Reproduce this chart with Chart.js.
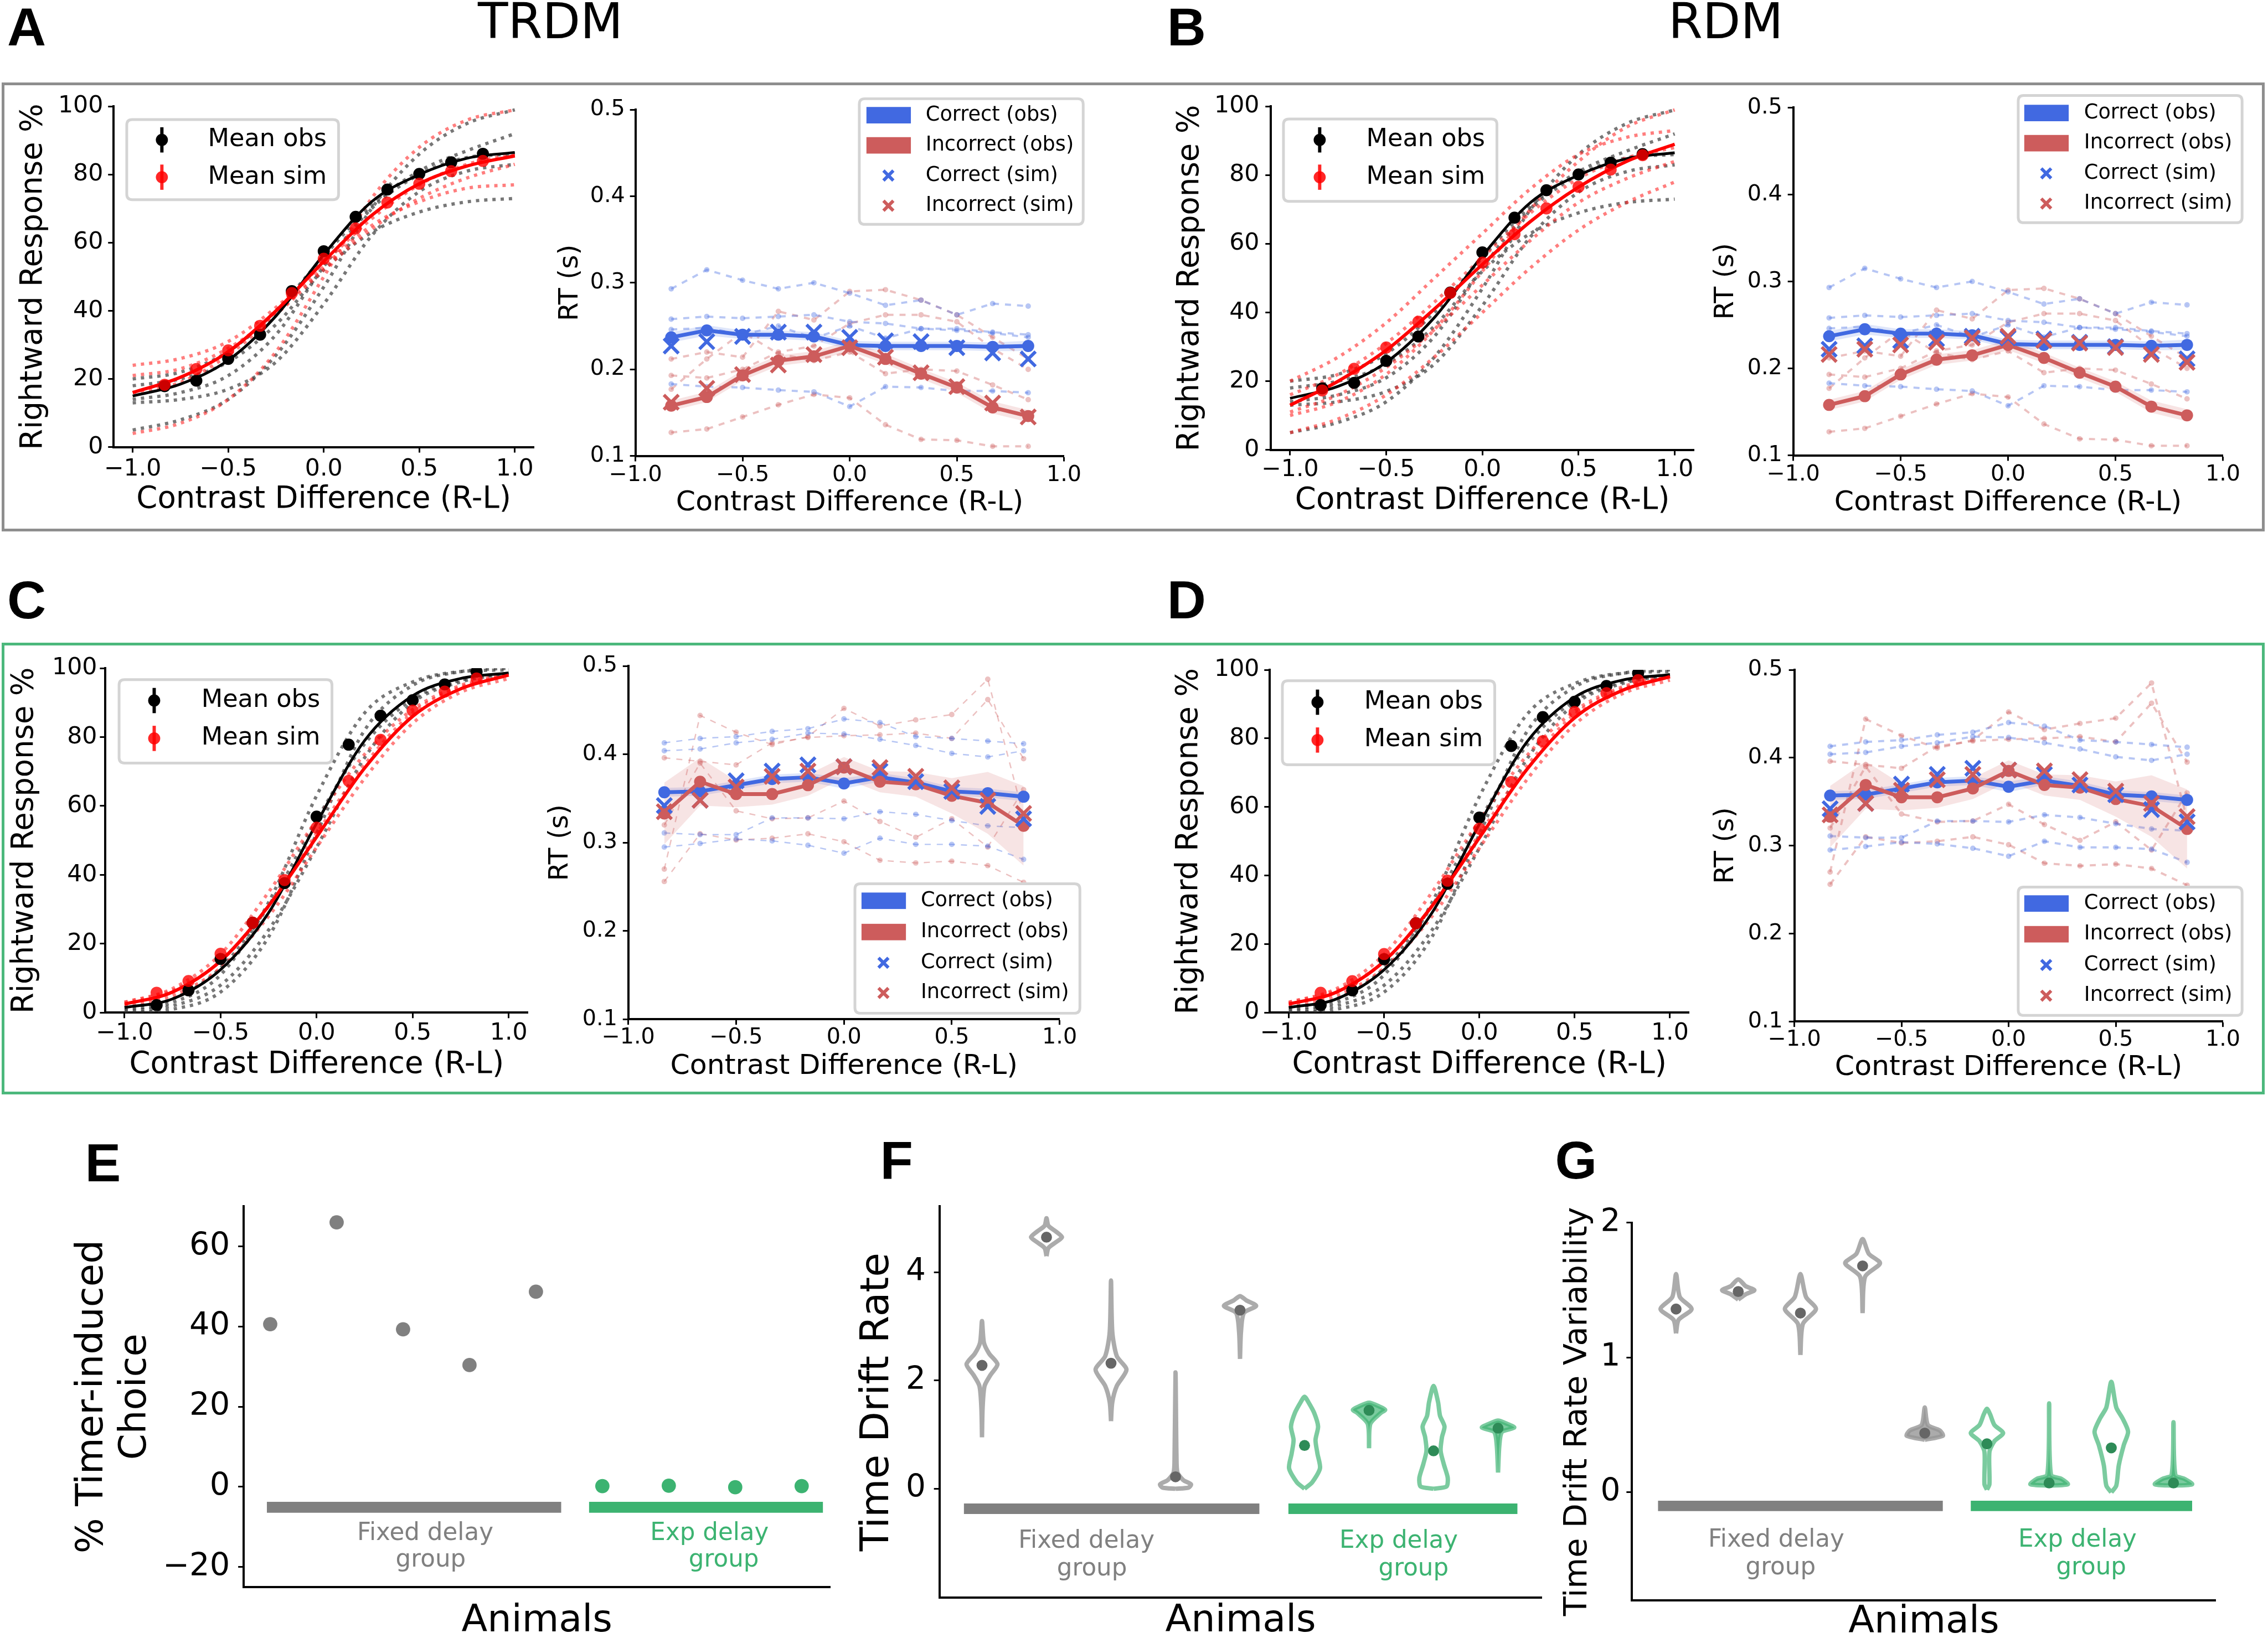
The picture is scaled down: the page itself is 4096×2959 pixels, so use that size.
<!DOCTYPE html>
<html>
<head>
<meta charset="utf-8">
<script src="https://cdn.jsdelivr.net/npm/chart.js@4.4.1/dist/chart.umd.min.js"></script>
<style>
  html, body { margin: 0; padding: 0; background: #fff; }
  #page { position: relative; width: 4096px; height: 2959px; overflow: hidden; background: #fff; }
  canvas { position: absolute; }
  .txt { position: absolute; white-space: pre; line-height: 1; }
  .frame { position: absolute; box-sizing: border-box; }
</style>
</head>
<body>
<div id="page"></div>
<script>
// everything is laid out in reference pixels (4130 wide) and scaled by S
const S = 0.991;
const FONT = '"DejaVu Sans", "Liberation Sans", sans-serif';

// ---- shared axes ----
const contrast = [-0.833, -0.667, -0.5, -0.333, -0.167, 0, 0.167, 0.333, 0.5, 0.667, 0.833];
const fitX = [-1, -0.75, -0.5, -0.25, 0, 0.25, 0.5, 0.75, 1];
const psyXTicks = [-1, -0.5, 0, 0.5, 1];
const psyYTicks = [0, 20, 40, 60, 80, 100];
const rtYTicks = [0.1, 0.2, 0.3, 0.4, 0.5];

// ---- fixed delay group, rightward response % (A, B) ----
const fixedObsMean = [17.9, 19.5, 25.9, 33.0, 45.8, 57.5, 67.6, 75.6, 80.2, 83.6, 86.1];
const fixedObsFit = [15, 18.5, 25.5, 38.5, 56.5, 72, 80, 84.8, 86.5];
const trdmSimMean = [18.3, 22.9, 28.4, 35.6, 45.2, 55.3, 64.2, 71.8, 77.3, 81.0, 84.0];
const trdmSimFit = [16, 20.5, 28, 40, 54.5, 68, 77.3, 82.5, 85.5];
const rdmSimMean = [17.3, 23.6, 29.8, 37.3, 45.7, 54.5, 62.8, 70.3, 76.6, 81.6, 85.8];
const rdmSimFit = [13, 20, 29, 41, 54, 66.5, 76.5, 84, 89];
const fixedObsIndiv = [
  [5, 8, 14, 27, 47, 70, 86, 95, 99],
  [20, 22, 28, 40, 56, 71, 81, 87, 92],
  [14, 16, 21, 33, 53, 70, 80, 85, 86],
  [13, 14, 17, 25, 42, 62, 75, 81, 83],
  [18, 20, 25, 36, 52, 63, 69, 72, 73]
];
const trdmSimIndiv = [
  [4, 7, 14, 28, 50, 73, 88, 96, 99],
  [24, 26, 31, 41, 54, 67, 77, 83, 86],
  [21, 23, 29, 39, 52, 64, 73, 79, 83],
  [16, 19, 27, 39, 53, 65, 72, 76, 77]
];
const rdmSimIndiv = [
  [5, 9, 16, 27, 40, 53, 64, 72, 78],
  [11, 16, 24, 35, 48, 61, 72, 79, 84],
  [16, 22, 31, 43, 56, 69, 79, 85, 88],
  [20, 27, 37, 50, 63, 76, 86, 91, 93],
  [10, 14, 22, 35, 52, 70, 84, 94, 99]
];

// ---- exp delay group, rightward response % (C, D) ----
const expObsMean = [2.2, 6.5, 15.6, 26.1, 37.6, 56.9, 77.8, 86.2, 90.7, 95.3, 99.0];
const expObsFit = [1.5, 4, 12.5, 29, 55, 79, 92, 97, 98.6];
const expSimMean = [5.8, 9.2, 17.1, 26.1, 38.5, 53.7, 67.3, 79.2, 87.7, 93.2, 97.0];
const expSimFit = [2.5, 6, 15, 31, 51, 71, 86, 94, 98];
const expObsIndiv = [
  [0, 1, 6, 22, 52, 82, 95, 99, 100],
  [1, 3, 11, 32, 63, 87, 96, 99, 99.5],
  [1.5, 4, 13, 31, 56, 78, 91, 96.5, 98.5],
  [0.5, 2, 8, 24, 48, 74, 90, 96, 98.5]
];
const expSimIndiv = [
  [3, 6.5, 15, 31, 52, 72, 87, 94.5, 98],
  [2, 5, 13, 28, 48, 68, 84, 93, 97],
  [3, 7, 17, 35, 56, 75, 88, 95, 98.5]
];

// ---- reaction times, fixed delay group (A, B) ----
const rtCorrFixed = [0.237, 0.245, 0.240, 0.240, 0.238, 0.228, 0.227, 0.227, 0.227, 0.226, 0.227];
const rtIncFixed = [0.158, 0.168, 0.193, 0.210, 0.215, 0.227, 0.212, 0.195, 0.179, 0.156, 0.146];
const rtCorrFixedErr = [0.006, 0.006, 0.005, 0.005, 0.005, 0.005, 0.005, 0.005, 0.005, 0.005, 0.006];
const rtIncFixedErr = [0.006, 0.006, 0.006, 0.006, 0.006, 0.006, 0.006, 0.006, 0.006, 0.007, 0.007];
const trdmSimCorr = [0.227, 0.232, 0.238, 0.243, 0.243, 0.237, 0.233, 0.232, 0.225, 0.219, 0.212];
const trdmSimInc = [0.162, 0.178, 0.194, 0.205, 0.217, 0.225, 0.214, 0.196, 0.180, 0.161, 0.145];
const rdmSimCorr = [0.222, 0.226, 0.232, 0.234, 0.237, 0.235, 0.234, 0.230, 0.225, 0.219, 0.211];
const rdmSimInc = [0.216, 0.222, 0.227, 0.230, 0.235, 0.237, 0.232, 0.229, 0.224, 0.216, 0.207];
const rtCorrFixedIndiv = [
  [0.293, 0.315, 0.303, 0.293, 0.300, 0.288, 0.274, 0.280, 0.263, 0.276, 0.273],
  [0.258, 0.261, 0.259, 0.261, 0.263, 0.255, 0.253, 0.247, 0.247, 0.243, 0.240],
  [0.246, 0.248, 0.240, 0.250, 0.236, 0.250, 0.236, 0.247, 0.245, 0.242, 0.237],
  [0.183, 0.180, 0.179, 0.176, 0.174, 0.157, 0.180, 0.179, 0.175, 0.175, 0.173]
];
const rtIncFixedIndiv = [
  [0.127, 0.131, 0.145, 0.159, 0.171, 0.167, 0.136, 0.119, 0.118, 0.111, 0.111],
  [0.212, 0.220, 0.214, 0.267, 0.257, 0.290, 0.292, 0.280, 0.263, 0.237, 0.212],
  [0.193, 0.190, 0.200, 0.220, 0.227, 0.253, 0.263, 0.263, 0.255, 0.224, 0.200],
  [0.177, 0.212, 0.243, 0.218, 0.210, 0.220, 0.195, 0.200, 0.198, 0.182, 0.165]
];

// ---- reaction times, exp delay group (C, D) ----
const rtCorrExp = [0.357, 0.358, 0.365, 0.372, 0.374, 0.367, 0.374, 0.368, 0.358, 0.356, 0.352];
const rtIncExp = [0.333, 0.369, 0.355, 0.355, 0.365, 0.385, 0.369, 0.366, 0.353, 0.345, 0.319];
const rtCorrExpErr = [0.005, 0.005, 0.005, 0.005, 0.005, 0.006, 0.005, 0.005, 0.005, 0.005, 0.005];
const rtIncExpErr = [0.035, 0.027, 0.015, 0.012, 0.012, 0.012, 0.012, 0.014, 0.020, 0.035, 0.045];
const expSimCorr = [0.342, 0.348, 0.370, 0.381, 0.388, 0.386, 0.381, 0.369, 0.358, 0.341, 0.327];
const expSimInc = [0.335, 0.348, 0.363, 0.375, 0.381, 0.386, 0.385, 0.375, 0.362, 0.348, 0.333];
const rtCorrExpIndiv = [
  [0.413, 0.418, 0.420, 0.426, 0.429, 0.440, 0.436, 0.420, 0.418, 0.415, 0.412],
  [0.404, 0.406, 0.413, 0.417, 0.424, 0.423, 0.417, 0.410, 0.401, 0.397, 0.404],
  [0.311, 0.309, 0.309, 0.328, 0.328, 0.327, 0.335, 0.332, 0.325, 0.319, 0.317],
  [0.295, 0.299, 0.304, 0.302, 0.297, 0.288, 0.305, 0.298, 0.298, 0.296, 0.281]
];
const rtIncExpIndiv = [
  [0.396, 0.392, 0.388, 0.413, 0.419, 0.421, 0.422, 0.424, 0.418, 0.462, 0.395],
  [0.270, 0.444, 0.425, 0.411, 0.420, 0.452, 0.432, 0.439, 0.445, 0.485, 0.330],
  [0.256, 0.310, 0.303, 0.305, 0.310, 0.301, 0.280, 0.277, 0.279, 0.274, 0.255],
  [0.320, 0.390, 0.336, 0.327, 0.328, 0.347, 0.324, 0.306, 0.327, 0.295, 0.360]
];

// ---- per-animal panels (E, F, G): animals 0-4 fixed, 5-8 exp ----
const animalPos = [0, 1, 2, 3, 4, 5, 6, 7, 8];
const timerChoice = [40.6, 66.0, 39.3, 30.4, 48.7, 0.2, 0.3, -0.1, 0.2];
// violin outlines: [value, half width] from bottom to top
const driftViolins = [
  [[0.95, 0], [1.5, 0.01], [1.9, 0.04], [2.1, 0.13], [2.3, 0.24], [2.5, 0.11], [2.7, 0.03], [3.1, 0]],
  [[4.3, 0], [4.45, 0.03], [4.56, 0.15], [4.65, 0.24], [4.75, 0.15], [4.86, 0.03], [5.0, 0]],
  [[1.25, 0], [1.6, 0.02], [1.9, 0.09], [2.2, 0.24], [2.45, 0.09], [2.9, 0.02], [3.85, 0]],
  [[0.0, 0], [0.02, 0.2], [0.08, 0.24], [0.16, 0.12], [0.3, 0.03], [0.6, 0.015], [2.15, 0]],
  [[2.4, 0], [2.9, 0.015], [3.25, 0.06], [3.38, 0.25], [3.48, 0.1], [3.56, 0]],
  [[0.0, 0], [0.12, 0.12], [0.38, 0.24], [0.65, 0.2], [0.9, 0.17], [1.15, 0.21], [1.4, 0.15], [1.6, 0.06], [1.7, 0]],
  [[0.75, 0], [1.2, 0.02], [1.4, 0.18], [1.46, 0.25], [1.52, 0.16], [1.59, 0]],
  [[0.0, 0], [0.04, 0.2], [0.2, 0.22], [0.45, 0.16], [0.7, 0.11], [0.95, 0.13], [1.15, 0.17], [1.35, 0.1], [1.6, 0.07], [1.9, 0]],
  [[0.3, 0], [0.8, 0.02], [1.05, 0.06], [1.13, 0.25], [1.2, 0.14], [1.26, 0]]
];
const driftMedian = [2.28, 4.65, 2.32, 0.22, 3.3, 0.8, 1.45, 0.7, 1.12];
const driftSolid = [false, false, false, false, false, false, true, false, true];
const varViolins = [
  [[1.18, 0], [1.28, 0.04], [1.36, 0.25], [1.45, 0.06], [1.62, 0]],
  [[1.43, 0], [1.47, 0.12], [1.5, 0.26], [1.53, 0.12], [1.58, 0]],
  [[1.02, 0], [1.25, 0.04], [1.36, 0.25], [1.45, 0.09], [1.62, 0]],
  [[1.33, 0], [1.6, 0.04], [1.7, 0.28], [1.77, 0.1], [1.88, 0]],
  [[0.39, 0], [0.42, 0.29], [0.46, 0.24], [0.5, 0.05], [0.63, 0]],
  [[0.02, 0], [0.06, 0.04], [0.3, 0.04], [0.38, 0.12], [0.44, 0.26], [0.5, 0.12], [0.58, 0.05], [0.62, 0]],
  [[0.05, 0], [0.06, 0.3], [0.1, 0.2], [0.13, 0.03], [0.66, 0]],
  [[0.0, 0], [0.05, 0.08], [0.2, 0.12], [0.35, 0.2], [0.45, 0.27], [0.55, 0.18], [0.63, 0.08], [0.82, 0]],
  [[0.05, 0], [0.06, 0.3], [0.1, 0.18], [0.13, 0.03], [0.52, 0]]
];
const varMedian = [1.36, 1.49, 1.33, 1.68, 0.44, 0.36, 0.07, 0.33, 0.07];
const varSolid = [false, false, false, false, true, false, true, false, true];
const eYTicks = [-20, 0, 20, 40, 60];
const fYTicks = [0, 2, 4];
const gYTicks = [0, 1, 2];

// ---------------------------------------------------------------
const page = document.getElementById('page');
Chart.defaults.font.family = FONT;

function fmt(v, d) { return v.toFixed(d).replace('-', '\u2212'); }
const xy = (xs, ys) => xs.map((x, i) => ({ x: x, y: ys[i] }));

function pts(xs, ys, color, r, style, bw) {
  return { data: xy(xs, ys), showLine: false, pointRadius: r * S, pointStyle: style || 'circle',
    pointBackgroundColor: color, pointBorderColor: color, pointBorderWidth: (bw || 0) * S, borderColor: color };
}
function curve(xs, ys, color, w, dash) {
  return { data: xy(xs, ys), borderColor: color, borderWidth: w * S, borderDash: dash ? dash.map(d => d * S) : [],
    pointRadius: 0, cubicInterpolationMode: 'monotone', fill: false, borderCapStyle: 'butt' };
}
function obsLine(ys, color) {
  return { data: xy(contrast, ys), borderColor: color, borderWidth: 7 * S, pointRadius: 11 * S,
    pointBackgroundColor: color, pointBorderWidth: 0, fill: false, tension: 0 };
}
function dashLine(ys, color, w) {
  return { data: xy(contrast, ys), borderColor: color, borderWidth: w * S, borderDash: [11 * S, 11 * S],
    pointRadius: 5 * S, pointBackgroundColor: color, pointBorderWidth: 0, fill: false, tension: 0 };
}
function band(mean, err, color) {
  return [
    { data: xy(contrast, mean.map((v, i) => v - err[i])), borderWidth: 0, borderColor: 'rgba(0,0,0,0)', pointRadius: 0, fill: false },
    { data: xy(contrast, mean.map((v, i) => v + err[i])), borderWidth: 0, borderColor: 'rgba(0,0,0,0)', pointRadius: 0, fill: '-1', backgroundColor: color }
  ];
}
function hbar(x0, x1, y, color, w) {
  return { data: [{ x: x0, y: y }, { x: x1, y: y }], borderColor: color, borderWidth: w * S, pointRadius: 0, fill: false, borderCapStyle: 'butt' };
}
function violin(pos, profile, color, solid) {
  const right = profile.map(([y, w]) => ({ x: pos + w, y: y }));
  const left = profile.slice(0, -1).reverse().map(([y, w]) => ({ x: pos - w, y: y }));
  return { data: right.concat(left), borderColor: color, borderWidth: 8 * S, pointRadius: 0, tension: 0.25,
    fill: solid ? 'shape' : false, backgroundColor: color, borderJoinStyle: 'round' };
}

function psyDatasets(obsMean, obsFit, simMean, simFit, obsIndiv, simIndiv) {
  const ds = [
    pts(contrast, simMean, 'rgba(255,0,0,0.8)', 11),
    pts(contrast, obsMean, '#000000', 11),
    curve(fitX, simFit, '#ff0000', 6),
    curve(fitX, obsFit, '#000000', 5)
  ];
  simIndiv.forEach(v => ds.push(curve(fitX, v, 'rgba(255,40,40,0.6)', 6, [6, 9])));
  obsIndiv.forEach(v => ds.push(curve(fitX, v, 'rgba(55,55,55,0.68)', 6, [6, 9])));
  return ds;
}
function rtDatasets(corr, corrErr, inc, incErr, simCorr, simInc, corrIndiv, incIndiv, dashW) {
  const ds = [
    pts(contrast, simInc, '#cd5c5c', 19, 'crossRot', 6),
    pts(contrast, simCorr, '#4169e1', 19, 'crossRot', 6),
    obsLine(inc, '#cd5c5c'),
    obsLine(corr, '#4169e1')
  ];
  band(inc, incErr, 'rgba(205,92,92,0.17)').forEach(d => ds.push(d));
  band(corr, corrErr, 'rgba(65,105,225,0.17)').forEach(d => ds.push(d));
  corrIndiv.forEach(v => ds.push(dashLine(v, 'rgba(65,105,225,0.38)', dashW)));
  incIndiv.forEach(v => ds.push(dashLine(v, 'rgba(205,92,92,0.38)', dashW)));
  return ds;
}
function violinDatasets(profiles, medians, solid, dotGray, dotGreen, barY, fixedBar, expBar) {
  const ds = [
    pts(animalPos.slice(0, 5), medians.slice(0, 5), dotGray, 10),
    pts(animalPos.slice(5), medians.slice(5), dotGreen, 10)
  ];
  profiles.forEach((p, i) => ds.push(violin(animalPos[i], p, i < 5 ? 'rgba(150,150,150,0.8)' : 'rgba(60,179,113,0.68)', solid[i])));
  ds.push(hbar(fixedBar[0], fixedBar[1], barY, '#808080', 19));
  ds.push(hbar(expBar[0], expBar[1], barY, '#3cb371', 19));
  return ds;
}

function legendPlugin(spec, X, Y) {
  return { id: 'panelLegend', afterDraw(chart) {
    const ctx = chart.ctx;
    const [l, t, r, b] = spec.box;
    const x0 = X(l), y0 = Y(t), w = (r - l) * S, h = (b - t) * S, rad = 10 * S;
    ctx.save();
    ctx.beginPath();
    ctx.moveTo(x0 + rad, y0); ctx.lineTo(x0 + w - rad, y0); ctx.quadraticCurveTo(x0 + w, y0, x0 + w, y0 + rad);
    ctx.lineTo(x0 + w, y0 + h - rad); ctx.quadraticCurveTo(x0 + w, y0 + h, x0 + w - rad, y0 + h);
    ctx.lineTo(x0 + rad, y0 + h); ctx.quadraticCurveTo(x0, y0 + h, x0, y0 + h - rad);
    ctx.lineTo(x0, y0 + rad); ctx.quadraticCurveTo(x0, y0, x0 + rad, y0);
    ctx.closePath();
    ctx.fillStyle = 'rgba(255,255,255,0.85)'; ctx.fill();
    ctx.strokeStyle = '#d4d4d4'; ctx.lineWidth = 5 * S; ctx.stroke();
    ctx.font = (spec.font * S) + 'px ' + FONT;
    ctx.textBaseline = 'middle'; ctx.textAlign = 'left';
    spec.items.forEach((it, i) => {
      const cy = Y(spec.rows[i]);
      if (it.kind === 'patch') {
        ctx.fillStyle = it.color;
        ctx.fillRect(X(spec.patch[0]), cy - 15 * S, (spec.patch[1] - spec.patch[0]) * S, 30 * S);
      } else if (it.kind === 'err') {
        const cx = X(spec.markX);
        ctx.strokeStyle = it.color; ctx.lineWidth = 6 * S;
        ctx.beginPath(); ctx.moveTo(cx, cy - 23 * S); ctx.lineTo(cx, cy + 23 * S); ctx.stroke();
        ctx.fillStyle = it.color; ctx.beginPath(); ctx.arc(cx, cy, 11 * S, 0, Math.PI * 2); ctx.fill();
      } else {
        const cx = X(spec.markX), a = 9 * S;
        ctx.strokeStyle = it.color; ctx.lineWidth = 6 * S;
        ctx.beginPath(); ctx.moveTo(cx - a, cy - a); ctx.lineTo(cx + a, cy + a);
        ctx.moveTo(cx + a, cy - a); ctx.lineTo(cx - a, cy + a); ctx.stroke();
      }
      ctx.fillStyle = '#000';
      ctx.fillText(it.label, X(spec.textX), cy);
    });
    ctx.restore();
  } };
}

function makePanel(p) {
  const [cl, ct, cr, cb] = p.cv, [pl, pt, pr, pb] = p.plot;
  const L = Math.round(cl * S), T = Math.round(ct * S);
  const W = Math.round(cr * S) - L, H = Math.round(cb * S) - T;
  const cv = document.createElement('canvas');
  cv.width = W; cv.height = H;
  cv.style.left = L + 'px'; cv.style.top = T + 'px'; cv.style.width = W + 'px'; cv.style.height = H + 'px';
  page.appendChild(cv);
  const X = v => v * S - L, Y = v => v * S - T;
  const xlh = p.xTitleSize * S * 0.5, ylh = p.yTitleSize * S * (p.yTitleLH || 0.5);
  return new Chart(cv, {
    type: 'line',
    data: { datasets: p.datasets },
    options: {
      responsive: false, maintainAspectRatio: false, animation: false, devicePixelRatio: 1, events: [],
      layout: { padding: { left: 0, bottom: 0, top: Y(pt), right: W - X(pr) } },
      plugins: { legend: { display: false }, tooltip: { enabled: false } },
      scales: {
        x: {
          type: 'linear', min: p.x[0], max: p.x[1],
          afterBuildTicks: s => { s.ticks = (p.xTicks || [p.x[0]]).map(v => ({ value: v })); },
          afterFit: s => { s.height = H - Y(pb); },
          ticks: { display: !!p.xTicks, autoSkip: false, maxRotation: 0, minRotation: 0, color: '#000',
            padding: (p.xTickPad || 0) * S, font: { size: p.tickSize * S, lineHeight: 1 },
            callback: v => fmt(v, p.xDec || 0) },
          grid: { drawOnChartArea: false, drawTicks: !!p.xTicks, tickLength: 10 * S, tickWidth: 3 * S, tickColor: '#000' },
          border: { display: true, color: '#000', width: 4 * S },
          title: { display: true, text: p.xTitle, color: '#000', font: { size: p.xTitleSize * S, lineHeight: 0.5 },
            padding: { top: 0, bottom: (H - Y(p.xTitleY)) - xlh / 2 } }
        },
        y: {
          type: 'linear', min: p.y[0], max: p.y[1],
          afterBuildTicks: s => { s.ticks = p.yTicks.map(v => ({ value: v })); },
          afterFit: s => { s.width = X(pl); },
          ticks: { autoSkip: false, color: '#000', padding: p.yTickPad * S,
            font: { size: p.tickSize * S, lineHeight: 1 }, callback: v => fmt(v, p.yDec || 0) },
          grid: { drawOnChartArea: false, drawTicks: true, tickLength: 10 * S, tickWidth: 3 * S, tickColor: '#000' },
          border: { display: true, color: '#000', width: 4 * S },
          title: { display: true, text: p.yTitle, color: '#000', font: { size: p.yTitleSize * S, lineHeight: p.yTitleLH || 0.5 },
            padding: { top: X(p.yTitleX) - ylh / 2, bottom: 0 } }
        }
      }
    },
    plugins: p.legend ? [legendPlugin(p.legend, X, Y)] : []
  });
}

function addText(txt, x, base, size, opts) {
  opts = opts || {};
  const d = document.createElement('div');
  d.className = 'txt';
  d.textContent = txt;
  d.style.fontSize = (size * S) + 'px';
  d.style.fontFamily = opts.family || FONT;
  d.style.fontWeight = opts.bold ? 'bold' : 'normal';
  d.style.color = opts.color || '#000';
  d.style.top = ((base - 0.846 * size) * S) + 'px';
  d.style.left = (x * S) + 'px';
  if (opts.center) d.style.transform = 'translateX(-50%)';
  page.appendChild(d);
}
function addFrame(l, t, r, b, color) {
  const d = document.createElement('div');
  d.className = 'frame';
  Object.assign(d.style, { left: l * S + 'px', top: t * S + 'px', width: (r - l) * S + 'px', height: (b - t) * S + 'px',
    border: (6 * S) + 'px solid ' + color });
  page.appendChild(d);
}

// frames and panel lettering
addFrame(3, 150, 4127, 969, '#8e8e8e');
addFrame(3, 1172, 4127, 1995, '#4cb87c');
const LET = { bold: true, family: '"Liberation Sans", Arial, sans-serif' };
addText('A', 13, 83, 98, LET);
addText('B', 2127, 83, 98, LET);
addText('C', 13, 1127, 98, LET);
addText('D', 2127, 1127, 98, LET);
addText('E', 155, 2154, 98, LET);
addText('F', 1604, 2148, 98, LET);
addText('G', 2834, 2148, 98, LET);
addText('TRDM', 1003, 70, 90, { center: true });
addText('RDM', 3145, 70, 90, { center: true });

const psyLegendItems = [
  { kind: 'err', color: '#000000', label: 'Mean obs' },
  { kind: 'err', color: 'rgba(255,0,0,0.85)', label: 'Mean sim' }
];
const rtLegendItems = [
  { kind: 'patch', color: '#4169e1', label: 'Correct (obs)' },
  { kind: 'patch', color: '#cd5c5c', label: 'Incorrect (obs)' },
  { kind: 'x', color: '#4169e1', label: 'Correct (sim)' },
  { kind: 'x', color: '#cd5c5c', label: 'Incorrect (sim)' }
];
const psyCommon = { x: [-1.1, 1.1], y: [0, 100], xTicks: psyXTicks, yTicks: psyYTicks, xDec: 1, yDec: 0,
  tickSize: 43, xTitle: 'Contrast Difference (R-L)', xTitleSize: 55, yTitle: 'Rightward Response %', yTitleSize: 55 };
const rtCommon = { x: [-1, 1], y: [0.1, 0.5], xTicks: psyXTicks, yTicks: rtYTicks, xDec: 1, yDec: 1,
  tickSize: 40, xTitle: 'Contrast Difference (R-L)', xTitleSize: 51, yTitle: 'RT (s)', yTitleSize: 49 };

// A: TRDM, fixed delay
makePanel(Object.assign({}, psyCommon, {
  cv: [15, 150, 1000, 960], plot: [207, 194, 973, 815], xTickPad: 9, yTickPad: 9, xTitleY: 911, yTitleX: 61,
  datasets: psyDatasets(fixedObsMean, fixedObsFit, trdmSimMean, trdmSimFit, fixedObsIndiv, trdmSimIndiv),
  legend: { box: [231, 218, 617, 364], rows: [255, 323], markX: 295, textX: 379, font: 45, items: psyLegendItems }
}));
makePanel(Object.assign({}, rtCommon, {
  cv: [995, 150, 2000, 960], plot: [1158, 200, 1939, 831], xTickPad: 6, yTickPad: 9, xTitleY: 917, yTitleX: 1040,
  datasets: rtDatasets(rtCorrFixed, rtCorrFixedErr, rtIncFixed, rtIncFixedErr, trdmSimCorr, trdmSimInc, rtCorrFixedIndiv, rtIncFixedIndiv, 4),
  legend: { box: [1566, 180, 1974, 409], rows: [210, 265, 320, 375], patch: [1579, 1660], markX: 1619, textX: 1687, font: 37, items: rtLegendItems }
}));
// B: RDM, fixed delay
makePanel(Object.assign({}, psyCommon, {
  cv: [2120, 150, 3110, 960], plot: [2316, 194, 3087, 820], xTickPad: 5, yTickPad: 11, xTitleY: 913, yTitleX: 2169,
  datasets: psyDatasets(fixedObsMean, fixedObsFit, rdmSimMean, rdmSimFit, fixedObsIndiv, rdmSimIndiv),
  legend: { box: [2339, 217, 2728, 367], rows: [255, 323], markX: 2405, textX: 2490, font: 45, items: psyLegendItems }
}));
makePanel(Object.assign({}, rtCommon, {
  cv: [3100, 150, 4110, 960], plot: [3268, 196, 4051, 830], xTickPad: 6, yTickPad: 10, xTitleY: 917, yTitleX: 3146,
  datasets: rtDatasets(rtCorrFixed, rtCorrFixedErr, rtIncFixed, rtIncFixedErr, rdmSimCorr, rdmSimInc, rtCorrFixedIndiv, rtIncFixedIndiv, 4),
  legend: { box: [3678, 174, 4086, 406], rows: [206, 261, 316, 371], patch: [3689, 3770], markX: 3729, textX: 3798, font: 37, items: rtLegendItems }
}));
// C: TRDM, exp delay
makePanel(Object.assign({}, psyCommon, {
  cv: [5, 1175, 990, 1985], plot: [192, 1218, 962, 1846], xTickPad: 6.5, yTickPad: 5, xTitleY: 1941, yTitleX: 45,
  datasets: psyDatasets(expObsMean, expObsFit, expSimMean, expSimFit, expObsIndiv, expSimIndiv),
  legend: { box: [217, 1239, 605, 1391], rows: [1277, 1346], markX: 281, textX: 367, font: 45, items: psyLegendItems }
}));
makePanel(Object.assign({}, rtCommon, {
  cv: [980, 1175, 1990, 1985], plot: [1145, 1214, 1931, 1858], xTickPad: 4, yTickPad: 10, xTitleY: 1944, yTitleX: 1022,
  datasets: rtDatasets(rtCorrExp, rtCorrExpErr, rtIncExp, rtIncExpErr, expSimCorr, expSimInc, rtCorrExpIndiv, rtIncExpIndiv, 2.5),
  legend: { box: [1558, 1611, 1968, 1847], rows: [1642, 1699, 1755, 1810], patch: [1570, 1651], markX: 1610, textX: 1678, font: 37, items: rtLegendItems }
}));
// D: RDM, exp delay
makePanel(Object.assign({}, psyCommon, {
  cv: [2120, 1175, 3110, 1985], plot: [2314, 1221, 3078, 1846], xTickPad: 6.5, yTickPad: 9, xTitleY: 1941, yTitleX: 2167,
  datasets: psyDatasets(expObsMean, expObsFit, expSimMean, expSimFit, expObsIndiv, expSimIndiv),
  legend: { box: [2337, 1241, 2724, 1394], rows: [1280, 1349], markX: 2401, textX: 2486, font: 45, items: psyLegendItems }
}));
makePanel(Object.assign({}, rtCommon, {
  cv: [3100, 1175, 4110, 1985], plot: [3270, 1221, 4051, 1862], xTickPad: 4, yTickPad: 11, xTitleY: 1946, yTitleX: 3146,
  datasets: rtDatasets(rtCorrExp, rtCorrExpErr, rtIncExp, rtIncExpErr, expSimCorr, expSimInc, rtCorrExpIndiv, rtIncExpIndiv, 4),
  legend: { box: [3678, 1617, 4086, 1851], rows: [1647, 1703, 1759, 1815], patch: [3689, 3770], markX: 3729, textX: 3798, font: 37, items: rtLegendItems }
}));

// E: timer-induced choice
makePanel({
  cv: [120, 2140, 1530, 2984], plot: [444, 2199, 1513, 2893], x: [-0.4, 8.43], y: [-25, 70], yTicks: eYTicks,
  tickSize: 58, yTickPad: 15, xTitle: 'Animals', xTitleSize: 69, xTitleY: 2956,
  yTitle: ['% Timer-induced', 'Choice'], yTitleSize: 68, yTitleLH: 1.16, yTitleX: 169,
  datasets: [
    pts(animalPos.slice(0, 5), timerChoice.slice(0, 5), '#808080', 13),
    pts(animalPos.slice(5), timerChoice.slice(5), '#3cb371', 13),
    hbar(-0.05, 4.38, -5.1, '#808080', 20),
    hbar(4.8, 8.32, -5.1, '#3cb371', 20)
  ]
});
// F: time drift rate
makePanel({
  cv: [1540, 2140, 2830, 2984], plot: [1712, 2199, 2810, 2912], x: [-0.66, 8.68], y: [-2.01, 5.22], yTicks: fYTicks,
  tickSize: 57, yTickPad: 15, xTitle: 'Animals', xTitleSize: 69, xTitleY: 2956,
  yTitle: 'Time Drift Rate', yTitleSize: 72, yTitleX: 1600,
  datasets: violinDatasets(driftViolins, driftMedian, driftSolid, '#666666', '#2e8b57', -0.37, [-0.28, 4.3], [4.75, 8.3])
});
// G: time drift rate variability
makePanel({
  cv: [2830, 2140, 4110, 2984], plot: [2974, 2229, 4038, 2917], x: [-0.71, 8.68], y: [-0.8, 2.0], yTicks: gYTicks,
  tickSize: 57, yTickPad: 11, xTitle: 'Animals', xTitleSize: 69, xTitleY: 2958,
  yTitle: 'Time Drift Rate Variability', yTitleSize: 58, yTitleX: 2876,
  datasets: violinDatasets(varViolins, varMedian, varSolid, '#666666', '#2e8b57', -0.1, [-0.29, 4.29], [4.74, 8.3])
});

// group captions under the bars
const GRAY = { center: true, color: '#808080' }, GREEN = { center: true, color: '#3cb371' };
addText('Fixed delay', 775, 2808, 44, GRAY); addText('group', 785, 2857, 44, GRAY);
addText('Exp delay', 1293, 2808, 44, GREEN); addText('group', 1319, 2857, 44, GREEN);
addText('Fixed delay', 1980, 2822, 44, GRAY); addText('group', 1990, 2873, 44, GRAY);
addText('Exp delay', 2549, 2822, 44, GREEN); addText('group', 2576, 2873, 44, GREEN);
addText('Fixed delay', 3237, 2820, 44, GRAY); addText('group', 3245, 2871, 44, GRAY);
addText('Exp delay', 3786, 2820, 44, GREEN); addText('group', 3811, 2871, 44, GREEN);
</script>
</body>
</html>
